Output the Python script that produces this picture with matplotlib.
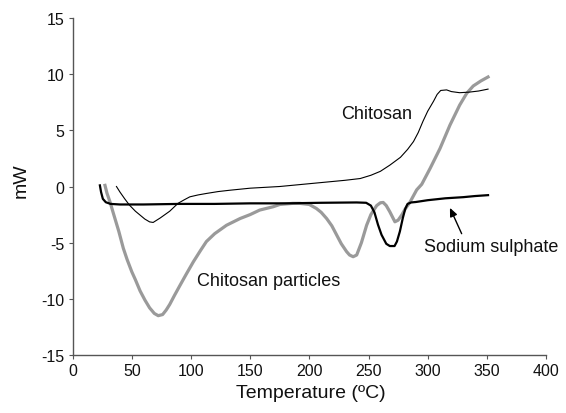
import matplotlib
matplotlib.use("Agg")
import matplotlib.pyplot as plt

plt.rcParams['font.family'] = ['Liberation Sans', 'DejaVu Sans']
plt.rcParams['axes.unicode_minus'] = False

# DSC traces (temperature in °C, heat flow in mW)
chitosan_t = [37, 40, 44, 48, 53, 57, 61, 65, 68, 71, 74, 78, 82, 86, 89, 94, 99,
              106, 113, 123, 133, 150, 175, 200, 215, 230, 243, 252, 260, 268, 277,
              283, 288, 292, 296, 300, 305, 308, 311, 316, 320, 327, 335, 343, 351]
chitosan_mw = [0.0, -0.5, -1.1, -1.66, -2.2, -2.55, -2.9, -3.15, -3.2, -3.0, -2.8,
               -2.5, -2.2, -1.8, -1.5, -1.2, -0.92, -0.75, -0.62, -0.45, -0.33, -0.15,
               0.0, 0.25, 0.4, 0.55, 0.71, 1.0, 1.35, 1.9, 2.6, 3.3, 4.0, 4.8, 5.8,
               6.7, 7.6, 8.2, 8.55, 8.6, 8.45, 8.35, 8.4, 8.5, 8.67]

particles_t = [27.3, 29, 31.5, 35, 39, 42.8, 46, 50, 53, 57, 61, 65, 69, 72.3, 76,
               79, 82, 86, 90.7, 96, 102, 108, 113, 120, 130, 141.5, 150, 158,
               169.5, 175, 186, 192, 200, 206, 210, 214.6, 219, 223, 227, 231.5,
               234, 237, 240, 244, 248.4, 252, 256.9, 260, 262.4, 265, 268, 272.3,
               275, 278, 281, 285, 290.7, 295, 302, 310.4, 318.8, 327, 333, 338.5,
               345, 351]
particles_mw = [0.1, -0.6, -1.36, -2.6, -4.0, -5.5, -6.5, -7.6, -8.3, -9.3, -10.1,
                -10.8, -11.3, -11.5, -11.4, -11.0, -10.5, -9.7, -8.8, -7.8, -6.7,
                -5.7, -4.9, -4.2, -3.45, -2.85, -2.5, -2.1, -1.8, -1.6, -1.5, -1.5,
                -1.6, -1.96, -2.3, -2.85, -3.5, -4.3, -5.1, -5.8, -6.1, -6.25, -6.1,
                -5.0, -3.45, -2.5, -1.7, -1.45, -1.42, -1.7, -2.25, -3.14, -3.0,
                -2.55, -2.0, -1.4, -0.3, 0.2, 1.6, 3.38, 5.46, 7.24, 8.3, 8.95, 9.4,
                9.75]

sulphate_t = [23, 24, 25.5, 28, 32, 40, 60, 90, 120, 150, 180, 210, 240, 248, 252,
              255, 258, 261, 265, 268, 272, 274, 276.5, 279, 281, 283, 286, 290,
              300, 315, 330, 340, 351]
sulphate_mw = [0.1, -0.5, -1.1, -1.4, -1.55, -1.6, -1.6, -1.55, -1.55, -1.5, -1.5,
               -1.45, -1.42, -1.45, -1.7, -2.3, -3.4, -4.3, -5.1, -5.3, -5.3, -4.9,
               -4.0, -2.8, -2.0, -1.55, -1.42, -1.38, -1.22, -1.05, -0.95, -0.85,
               -0.77]

x_ticks = [0, 50, 100, 150, 200, 250, 300, 350, 400]
y_ticks = [-15, -10, -5, 0, 5, 10, 15]

fig = plt.figure(figsize=(5.66, 4.14), dpi=100)
ax = fig.add_axes([0.1284, 0.1401, 0.8363, 0.8140])

ax.plot(particles_t, particles_mw, color='#9a9a9a', lw=2.3, solid_joinstyle='round')
ax.plot(chitosan_t, chitosan_mw, color='black', lw=0.8)
ax.plot(sulphate_t, sulphate_mw, color='black', lw=1.6)

ax.set_xlim(0, 400)
ax.set_ylim(-15, 15)
ax.set_xticks(x_ticks)
ax.set_yticks(y_ticks)
ax.tick_params(direction='out', length=3, width=0.8, colors='#555555',
               labelcolor='#111111', labelsize=11.5, pad=3)

for side in ('top', 'right'):
    ax.spines[side].set_visible(False)
for side in ('left', 'bottom'):
    ax.spines[side].set_color('#555555')
    ax.spines[side].set_linewidth(1.0)

ax.set_xlabel('Temperature (ºC)', fontsize=14, color='#111111')
ax.set_ylabel('mW', fontsize=14, color='#111111')
ax.xaxis.set_label_coords(0.503, -0.111)
ax.xaxis.label.set_va('center')
ax.yaxis.set_label_coords(-0.108, 0.52)
ax.yaxis.label.set_va('center')

ax.text(256.7, 6.5, 'Chitosan', fontsize=13, ha='center', va='center', color='#111111')
ax.text(165.4, -8.34, 'Chitosan particles', fontsize=13, ha='center', va='center',
        color='#111111')
ax.annotate('', xy=(318.8, -1.9), xytext=(328.7, -4.2),
            arrowprops=dict(arrowstyle='-|>,head_length=0.5,head_width=0.22',
                            color='black', lw=1.0, shrinkA=0, shrinkB=0))
ax.text(353.3, -5.37, 'Sodium sulphate', fontsize=13, ha='center', va='center',
        color='#111111')

fig.savefig('out.png', dpi=100)
